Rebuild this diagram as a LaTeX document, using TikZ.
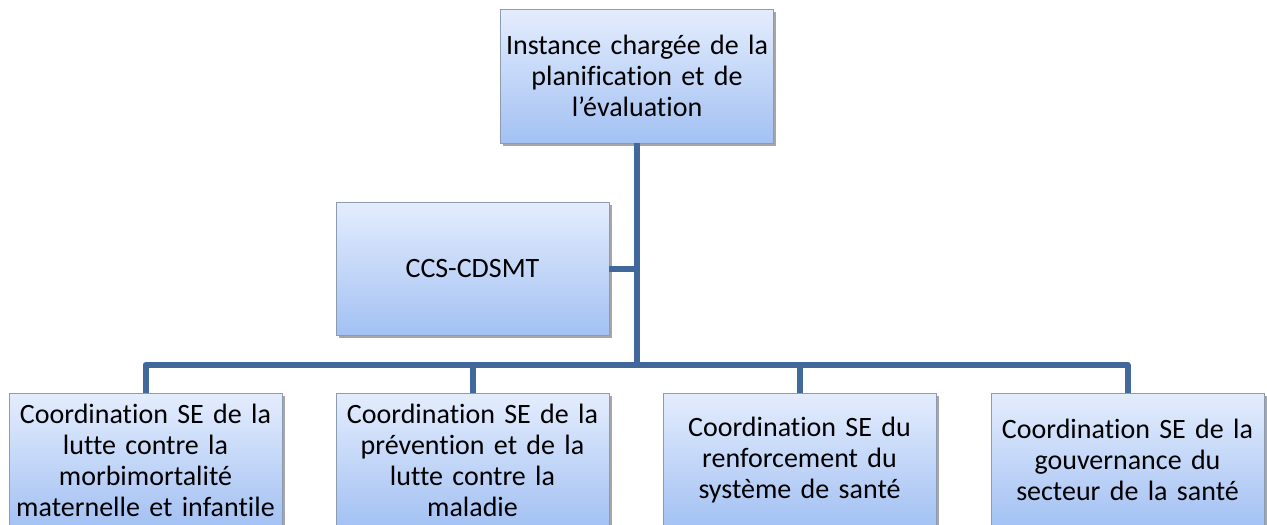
\documentclass[tikz,border=0pt]{standalone}
\usepackage{fontspec}
\setmainfont{Carlito}[Ligatures={NoCommon}]
\usetikzlibrary{shadows,calc}
\definecolor{linec}{HTML}{41689A}
\definecolor{boxtop}{HTML}{E4EDFD}
\definecolor{boxbot}{HTML}{A3C1F3}
\definecolor{boxline}{HTML}{8C9BB0}
\tikzset{
  orgbox/.style={rectangle, draw=boxline, line width=0.8pt, top color=boxtop, bottom color=boxbot,
    minimum width=273pt, minimum height=134pt, align=center, text width=272pt, inner sep=0pt,
    font=\fontsize{28}{31}\selectfont,
    drop shadow={shadow xshift=2.5pt, shadow yshift=-2.5pt, fill=black, opacity=0.35}},
  conn/.style={draw=linec, line width=6pt, line join=round}
}
\begin{document}
\begin{tikzpicture}[x=1pt,y=-1pt]
\useasboundingbox (0,0) rectangle (1267,525);
\clip (0,0) rectangle (1267,525);
\fill[white] (0,0) rectangle (1267,525);
\coordinate (bus) at (637,365);
\node[orgbox] (top) at (637,76) {Instance chargée de la\\planification et de\\l’évaluation};
\node[orgbox, minimum height=133pt] (ccs) at (472.5,268.5) {CCS-CDSMT};
\node[orgbox] (b1) at (145.5,460) {Coordination SE de la\\lutte contre la\\morbimortalité\\maternelle et infantile};
\node[orgbox] (b2) at (472.5,460) {Coordination SE de la\\prévention et de la\\lutte contre la\\maladie};
\node[orgbox] (b3) at (799.5,460) {Coordination SE du\\renforcement du\\système de santé};
\node[orgbox] (b4) at (1127.5,460) {Coordination SE de la\\gouvernance du\\secteur de la santé};
\draw[conn] (top.south) -- (bus);
\draw[conn] (ccs.east) -- (ccs.east -| bus);
\draw[conn] (b1.north) |- (bus);
\draw[conn] (b2.north) |- (bus);
\draw[conn] (b3.north) |- (bus);
\draw[conn] (b4.north) |- (bus);
\end{tikzpicture}
\end{document}
